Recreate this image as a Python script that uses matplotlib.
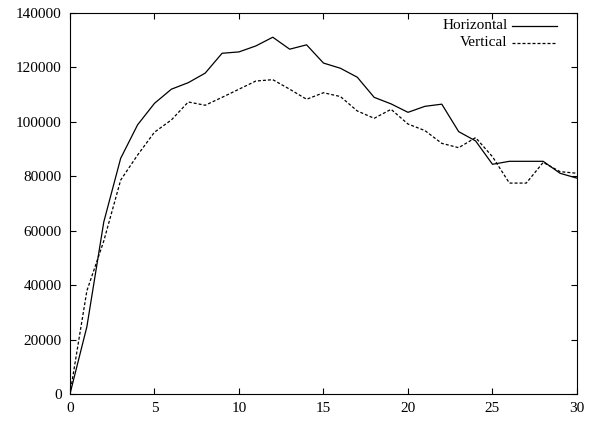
import numpy as np
import matplotlib
matplotlib.use("Agg")
import matplotlib.pyplot as plt

# values
steps = np.arange(0, 31)
horizontal = [0, 24700, 63200, 86600, 98900, 106800, 112000, 114400, 117900, 125200,
              125700, 127900, 131100, 126700, 128300, 121600, 119700, 116400, 109000, 106600,
              103500, 105700, 106500, 96400, 93000, 84400, 85500, 85500, 85500, 81100, 79300]
vertical = [0, 37900, 56200, 78600, 87800, 96200, 100700, 107300, 106100, 109000,
            112000, 115000, 115500, 112000, 108300, 110700, 109300, 104000, 101300, 104600,
            99200, 96800, 92100, 90500, 94200, 87200, 77500, 77500, 85100, 81700, 81100]
series_names = ["Horizontal", "Vertical"]

plt.rcParams["font.family"] = ["Liberation Serif", "DejaVu Serif"]
plt.rcParams["font.size"] = 11

fig = plt.figure(figsize=(5.96, 4.22), dpi=100)
ax = fig.add_axes([0.1174, 0.0664, 0.8507, 0.9028])

lw = 0.9
ax.plot(steps, horizontal, color="black", lw=lw, ls="-")
ax.plot(steps, vertical, color="black", lw=lw, ls=(0, (2.4, 1.6)))

ax.set_xlim(0, 30)
ax.set_ylim(0, 140000)
ax.set_xticks(np.arange(0, 31, 5))
ax.set_yticks(np.arange(0, 140001, 20000))

ax.tick_params(direction="in", length=4, width=0.8, top=True, right=True, pad=6)
for side in ax.spines.values():
    side.set_linewidth(0.8)

# gnuplot-like key: right-aligned labels with the line sample after them
styles = ["-", (0, (2.4, 1.6))]
for i, (name, st) in enumerate(zip(series_names, styles)):
    y = 0.967 - 0.045 * i
    ax.text(0.863, y, name, transform=ax.transAxes, ha="right", va="center")
    ax.plot([0.872, 0.961], [y, y], transform=ax.transAxes, color="black", lw=lw, ls=st)

fig.savefig("out.png", dpi=100)
